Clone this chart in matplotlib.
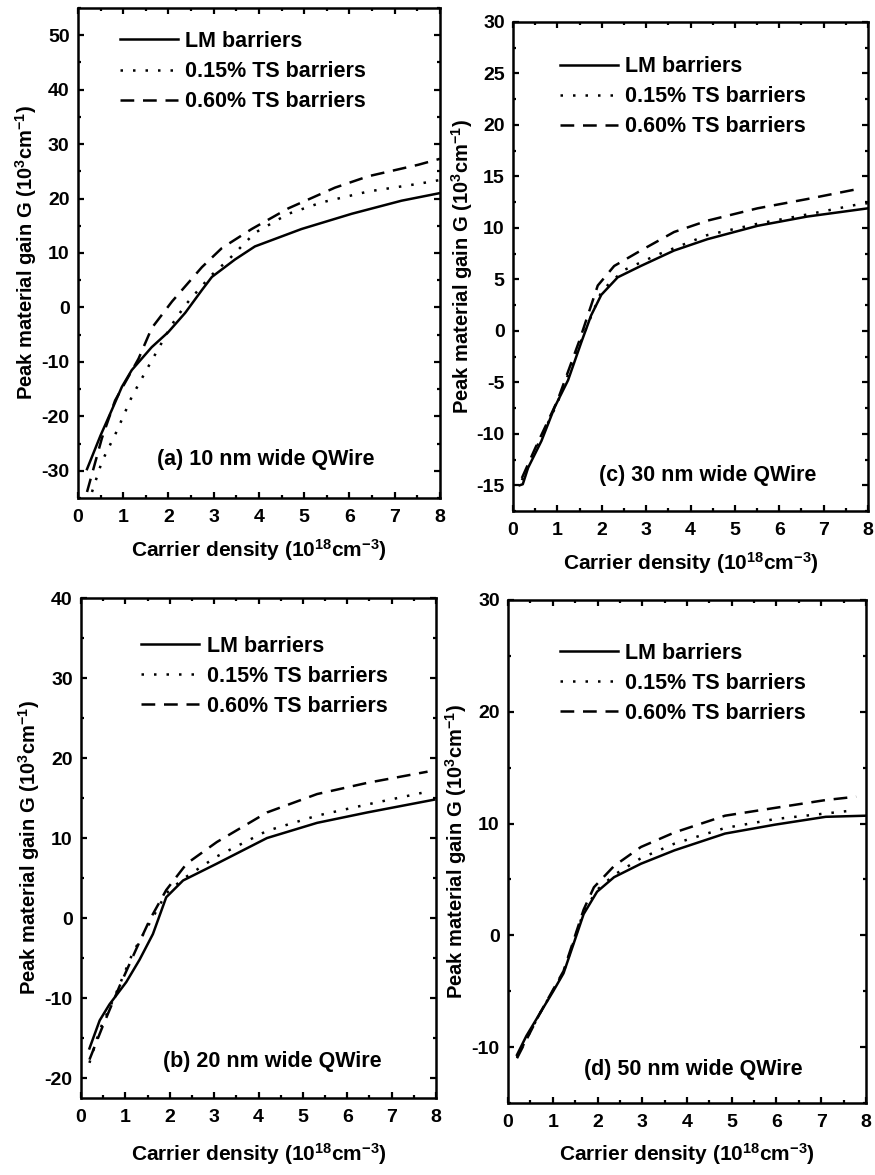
import numpy as np
import matplotlib
matplotlib.use('Agg')
import matplotlib.pyplot as plt
from matplotlib.ticker import MultipleLocator

plt.rcParams['font.family'] = ['Liberation Sans', 'DejaVu Sans']
plt.rcParams['font.weight'] = 'bold'
plt.rcParams['mathtext.default'] = 'regular'
plt.rcParams['axes.unicode_minus'] = False

# Labels
legend_labels = ['LM barriers', '0.15% TS barriers', '0.60% TS barriers']
xlabel = 'Carrier density (10$^{18}$cm$^{-3}$)'
ylabel = 'Peak material gain G (10$^3$cm$^{-1}$)'

# (a) 10 nm wide QWire
a_lm_x = [0.2, 0.5, 0.75, 0.97, 1.19, 1.63, 2.0, 2.37, 2.74, 2.96, 3.47, 3.91, 4.94, 6.05, 7.15, 8.0]
a_lm_y = [-29.7, -23.5, -18.8, -14.6, -11.5, -7.3, -4.5, -1.0, 3.2, 5.6, 8.8, 11.2, 14.4, 17.2, 19.6, 21.0]
a_ts15_x = [0.31, 0.53, 0.86, 1.19, 1.56, 2.08, 2.37, 2.66, 2.96, 3.33, 3.91, 4.65, 5.39, 6.42, 7.52, 8.0]
a_ts15_y = [-33.9, -28.3, -22.7, -16.4, -10.8, -3.1, 0.4, 3.2, 6.0, 8.8, 13.7, 17.2, 19.3, 21.3, 22.7, 23.4]
a_ts60_x = [0.2, 0.53, 0.82, 1.34, 1.63, 2.08, 2.74, 3.18, 3.84, 4.65, 5.68, 6.42, 7.52, 8.0]
a_ts60_y = [-33.9, -24.0, -17.1, -9.4, -3.8, 1.1, 7.4, 10.9, 14.4, 18.2, 22.0, 24.1, 26.2, 27.3]

# (c) 30 nm wide QWire
c_lm_x = [0.15, 0.22, 0.34, 0.64, 0.94, 1.24, 1.54, 1.76, 1.99, 2.36, 2.88, 3.63, 4.38, 5.51, 6.63, 8.0]
c_lm_y = [-15.0, -14.9, -13.3, -10.7, -7.4, -4.8, -1.1, 1.5, 3.5, 5.2, 6.3, 7.8, 8.9, 10.2, 11.1, 11.9]
c_ts15_x = [0.2, 0.5, 1.0, 1.5, 2.0, 2.5, 3.26, 4.38, 5.51, 6.63, 7.8, 8.0]
c_ts15_y = [-14.5, -11.6, -7.0, -1.3, 3.9, 5.9, 7.4, 9.3, 10.4, 11.3, 12.3, 12.4]
c_ts60_x = [0.2, 0.5, 1.0, 1.5, 1.91, 2.28, 2.88, 3.63, 4.38, 5.51, 6.63, 7.8]
c_ts60_y = [-14.3, -11.4, -6.8, -0.9, 4.4, 6.3, 7.8, 9.6, 10.7, 11.9, 12.8, 13.8]

# (b) 20 nm wide QWire
b_lm_x = [0.19, 0.42, 0.64, 1.02, 1.32, 1.62, 1.92, 2.3, 3.06, 4.19, 5.32, 6.45, 7.96]
b_lm_y = [-16.3, -12.8, -10.8, -8.0, -5.2, -2.0, 2.6, 4.7, 6.8, 10.0, 11.9, 13.2, 14.8]
b_ts15_x = [0.19, 0.42, 0.79, 1.17, 1.55, 1.92, 2.3, 3.06, 4.19, 5.32, 6.45, 7.81]
b_ts15_y = [-18.1, -14.0, -9.4, -4.3, -0.6, 3.1, 4.9, 7.7, 10.9, 12.8, 14.2, 15.8]
b_ts60_x = [0.19, 0.49, 0.87, 1.25, 1.55, 1.92, 2.38, 3.06, 4.19, 5.32, 6.45, 7.81]
b_ts60_y = [-17.7, -13.5, -8.5, -3.8, -0.2, 3.5, 6.8, 9.5, 13.2, 15.5, 16.9, 18.3]

# (d) 50 nm wide QWire
d_lm_x = [0.2, 0.41, 0.71, 1.01, 1.24, 1.47, 1.69, 1.99, 2.37, 2.97, 3.72, 4.85, 5.97, 7.1, 8.0]
d_lm_y = [-10.7, -9.0, -7.0, -5.0, -3.4, -0.7, 1.9, 3.9, 5.2, 6.4, 7.6, 9.1, 9.9, 10.6, 10.7]
d_ts15_x = [0.2, 0.71, 1.24, 1.69, 2.0, 2.37, 2.97, 3.72, 4.85, 5.97, 7.1, 7.78]
d_ts15_y = [-10.9, -7.0, -3.3, 2.1, 4.1, 5.4, 6.9, 8.2, 9.6, 10.4, 10.9, 11.2]
d_ts60_x = [0.2, 0.71, 1.24, 1.69, 1.92, 2.37, 2.97, 3.72, 4.85, 5.97, 7.1, 7.78]
d_ts60_y = [-11.0, -7.0, -3.2, 2.3, 4.3, 6.2, 7.9, 9.2, 10.7, 11.4, 12.1, 12.4]

styles = ['-', (0, (1, 4)), (0, (5.5, 3.5))]


def draw_panel(ax, series, ylim, ymajor, yminor, title, title_pos, leg_anchor, xlabelpad, ylabelpad):
    for (xs, ys), ls, lab in zip(series, styles, legend_labels):
        ax.plot(xs, ys, color='black', linestyle=ls, linewidth=1.8, label=lab)
    ax.set_xlim(0, 8)
    ax.set_ylim(*ylim)
    ax.xaxis.set_major_locator(MultipleLocator(1))
    ax.xaxis.set_minor_locator(MultipleLocator(0.5))
    ax.yaxis.set_major_locator(MultipleLocator(ymajor))
    ax.yaxis.set_minor_locator(MultipleLocator(yminor))
    ax.tick_params(which='both', direction='in', top=True, right=True, width=1.6, labelsize=14, pad=6)
    ax.tick_params(axis='x', which='both', pad=8)
    ax.tick_params(which='major', length=4)
    ax.tick_params(which='minor', length=2.5)
    for sp in ax.spines.values():
        sp.set_linewidth(1.8)
    ax.set_xlabel(xlabel, fontsize=15, fontweight='bold', labelpad=xlabelpad)
    ax.set_ylabel(ylabel, fontsize=14.5, fontweight='bold', labelpad=ylabelpad)
    ax.text(title_pos[0], title_pos[1], title, transform=ax.transAxes, ha='center', va='center',
            fontsize=15.5, fontweight='bold')
    ax.legend(loc='upper left', bbox_to_anchor=leg_anchor, frameon=False, fontsize=15.5,
              handlelength=2.7, handletextpad=0.33, labelspacing=0.42, borderpad=0, borderaxespad=0)


fig = plt.figure(figsize=(8.75, 11.75), dpi=100)
ax_a = fig.add_axes([0.0891, 0.5762, 0.4137, 0.417])
ax_c = fig.add_axes([0.5863, 0.5651, 0.4057, 0.4162])
ax_b = fig.add_axes([0.0926, 0.0655, 0.4057, 0.4255])
ax_d = fig.add_axes([0.5806, 0.0613, 0.4091, 0.4281])

draw_panel(ax_a, [(a_lm_x, a_lm_y), (a_ts15_x, a_ts15_y), (a_ts60_x, a_ts60_y)],
           (-35, 55), 10, 5, '(a) 10 nm wide QWire', (0.52, 0.078), (0.116, 0.953), 8, 2)
draw_panel(ax_c, [(c_lm_x, c_lm_y), (c_ts15_x, c_ts15_y), (c_ts60_x, c_ts60_y)],
           (-17.5, 30), 5, 2.5, '(c) 30 nm wide QWire', (0.547, 0.072), (0.132, 0.93), 8, 1)
draw_panel(ax_b, [(b_lm_x, b_lm_y), (b_ts15_x, b_ts15_y), (b_ts60_x, b_ts60_y)],
           (-22.5, 40), 10, 5, '(b) 20 nm wide QWire', (0.54, 0.074), (0.17, 0.925), 11, 2)
draw_panel(ax_d, [(d_lm_x, d_lm_y), (d_ts15_x, d_ts15_y), (d_ts60_x, d_ts60_y)],
           (-15, 30), 10, 5, '(d) 50 nm wide QWire', (0.517, 0.066), (0.145, 0.915), 7, 2)

fig.savefig('out.png', dpi=100)
